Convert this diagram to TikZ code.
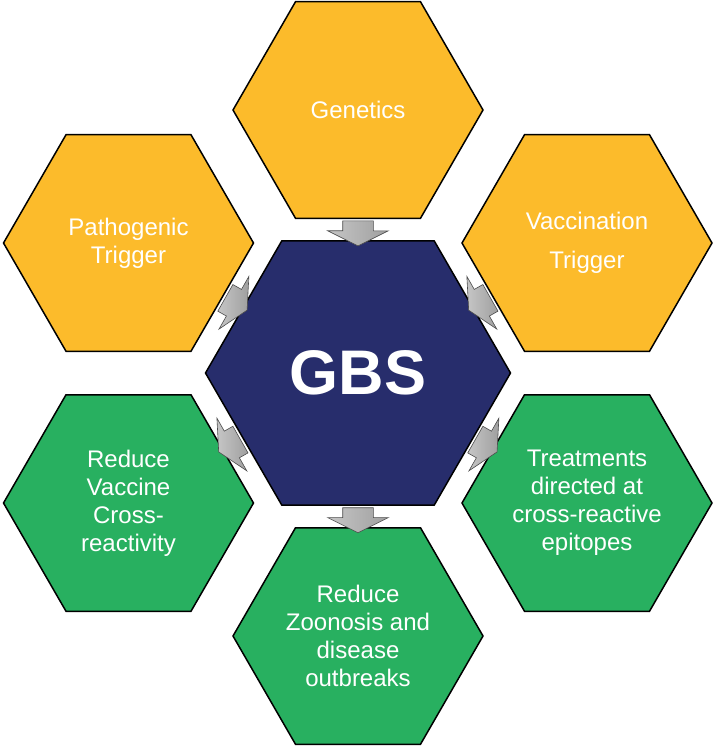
\documentclass[tikz,border=0pt]{standalone}
\usepackage{fontspec}
\setmainfont{Liberation Sans}
\usetikzlibrary{shapes.geometric,shapes.arrows}
\definecolor{hexgold}{RGB}{252,187,43}
\definecolor{hexgreen}{RGB}{40,176,96}
\definecolor{hexnavy}{RGB}{39,45,108}

\begin{document}
\begin{tikzpicture}
[x=1pt,y=-1pt,
 hexa/.style={regular polygon,regular polygon sides=6,draw=black,line width=1.5pt,
   inner sep=0pt,minimum size=250pt,text=white,align=center,
   font=\fontsize{24}{28}\selectfont},
 cause/.style={hexa,fill=hexgold},
 remedy/.style={hexa,fill=hexgreen},
 blockarr/.style={single arrow,draw=gray!60!black,line width=0.6pt,
   left color=gray!45,right color=gray!75,inner xsep=0pt,inner ysep=15pt,
   minimum height=25pt,single arrow head extend=15pt,single arrow tip angle=127}]
\useasboundingbox (0,0) rectangle (715,747);
\node[cause] (gen) at (358,110) {Genetics};
\node[cause] (patho) at (128.5,243) {Pathogenic\\Trigger};
\node[cause] (vacc) at (587,243) {Vaccination\\[11pt]Trigger};
\node[hexa,fill=hexnavy,minimum size=305pt,
  font=\bfseries\fontsize{63}{70}\selectfont] (gbs) at (358,373) {GBS};
\node[remedy] (redvac) at (128.5,503) {Reduce\\Vaccine\\Cross-\\reactivity};
\node[remedy] (treat) at (587,503) {Treatments\\directed at\\cross-reactive\\epitopes};
\node[remedy] (zoo) at (358,636) {Reduce\\Zoonosis and\\disease\\outbreaks};
\foreach \from/\to in {gen/gbs,patho/gbs,vacc/gbs,gbs/redvac,gbs/treat,gbs/zoo}
\path (\from) -- (\to) node[midway,sloped,allow upside down,blockarr] {};

\end{tikzpicture}
\end{document}
